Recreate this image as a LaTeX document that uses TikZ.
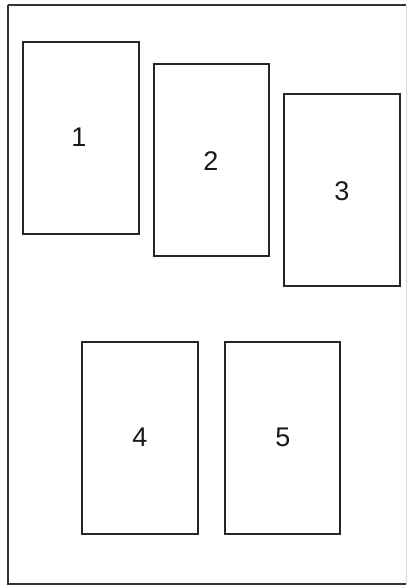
\documentclass[tikz,border=0pt]{standalone}
\usepackage{fontspec}
\setmainfont{Liberation Sans}
\begin{document}
\begin{tikzpicture}[x=1pt,y=-1pt,
  page/.style={draw=black!85,line width=1.1pt},
  frame/.style={draw=black!80,line width=1.2pt},
  lbl/.style={font=\fontsize{27}{32}\selectfont,text=black!90,inner sep=0pt}]
\useasboundingbox (0,0) rectangle (411,586);
\fill[white] (0,0) rectangle (411,586);
\draw[frame] (8,5) -- (406,5);
\draw[frame] (8,5) -- (8,584) -- (406,584);
\draw[draw=black!15,line width=0.7pt] (406,5) -- (406,584);
\draw[page] (23,42) rectangle (139,234);
\draw[page] (154,64) rectangle (269,256);
\draw[page] (284,94) rectangle (400,286);
\draw[page] (82,342) rectangle (198,534);
\draw[page] (225,342) rectangle (340,534);
\node[lbl] (n1) at (79,137) {1};
\node[lbl] (n2) at (211,161) {2};
\node[lbl] (n3) at (342,191) {3};
\node[lbl] (n4) at (140,437) {4};
\node[lbl] (n5) at (283,437) {5};
\end{tikzpicture}
\end{document}
